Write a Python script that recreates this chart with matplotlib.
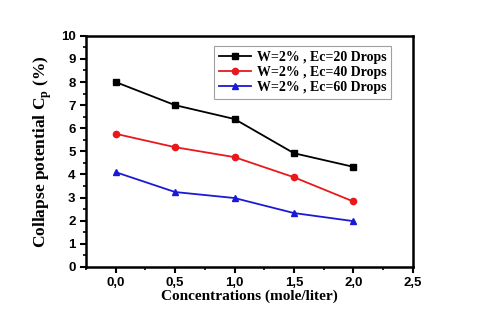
import matplotlib.pyplot as plt
from matplotlib.ticker import MultipleLocator, FuncFormatter

# Daten
conc = [0.0, 0.5, 1.0, 1.5, 2.0]
cp_20 = [8.0, 7.0, 6.4, 4.92, 4.33]
cp_40 = [5.76, 5.18, 4.75, 3.88, 2.83]
cp_60 = [4.1, 3.24, 2.98, 2.33, 1.98]
labels = ["W=2% , Ec=20 Drops", "W=2% , Ec=40 Drops", "W=2% , Ec=60 Drops"]

fig = plt.figure(figsize=(4.8, 3.2), dpi=100)
ax = fig.add_axes([0.179, 0.166, 0.681, 0.722])

ax.plot(conc, cp_20, color="black", marker="s", markersize=4.5, linewidth=1.3, label=labels[0])
ax.plot(conc, cp_40, color="#e8191c", marker="o", markersize=4.5, linewidth=1.3, label=labels[1])
ax.plot(conc, cp_60, color="#1a1ad6", marker="^", markersize=5, linewidth=1.3, label=labels[2])

ax.set_xlim(-0.25, 2.5)
ax.set_ylim(0, 10)
ax.xaxis.set_major_locator(MultipleLocator(0.5))
ax.xaxis.set_minor_locator(MultipleLocator(0.25))
ax.yaxis.set_major_locator(MultipleLocator(1))
ax.yaxis.set_minor_locator(MultipleLocator(0.5))
ax.xaxis.set_major_formatter(FuncFormatter(lambda v, p: f"{v:.1f}".replace(".", ",")))

ax.tick_params(which="major", direction="out", length=4, width=1.5, top=False, right=False)
ax.tick_params(which="minor", direction="out", length=2.5, width=1.2, top=False, right=False)
for lbl in ax.get_xticklabels() + ax.get_yticklabels():
    lbl.set_fontfamily("Liberation Sans")
    lbl.set_fontweight("bold")
    lbl.set_fontsize(9.5)
for s in ax.spines.values():
    s.set_linewidth(1.8)

serif = {"family": "Liberation Serif", "weight": "bold"}
ax.set_xlabel("Concentrations (mole/liter)", fontdict=serif, fontsize=11, labelpad=0)
ax.set_ylabel("Collapse potential C$_\\mathregular{p}$ (%)", fontdict=serif, fontsize=12.5, labelpad=5)

leg = ax.legend(loc="upper right", bbox_to_anchor=(0.955, 0.985), prop={"family": "Liberation Serif", "weight": "bold", "size": 10},
                fancybox=False, edgecolor="#888888", handlelength=2.3, borderpad=0.35, labelspacing=0.15, handletextpad=0.4)
leg.get_frame().set_linewidth(0.8)

plt.savefig("out.png", dpi=100)
